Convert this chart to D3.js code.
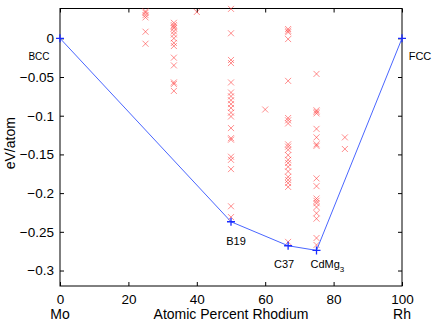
<!DOCTYPE html>
<html>
<head>
<meta charset="utf-8">
<script src="https://cdn.jsdelivr.net/npm/d3@7"></script>
<style>
  body { margin: 0; background: #fff; }
  svg { display: block; font-family: "Liberation Sans", Arial, sans-serif; }
</style>
</head>
<body>
<svg id="chart" width="436" height="324"></svg>
<script>
// structures sampled at each composition (eV/atom)
const compX = [25, 33.3, 40, 50, 60, 66.7, 75, 83.3];
const compE = [
  [0.035, 0.033, 0.030, 0.027, 0.0085, -0.007],
  [0.020, 0.017, 0.015, 0.013, 0.009, 0.005, 0, -0.006, -0.010, -0.025, -0.035, -0.057, -0.059, -0.068],
  [0.034],
  [0.038, 0.0065, -0.028, -0.032, -0.057, -0.070, -0.075, -0.080, -0.085, -0.090, -0.096, -0.101,
   -0.116, -0.129, -0.131, -0.153, -0.157, -0.169, -0.217, -0.231],
  [-0.092],
  [0.012, 0.0098, 0.0078, -0.001, -0.055, -0.103, -0.106, -0.110, -0.137, -0.140, -0.144, -0.151,
   -0.157, -0.161, -0.166, -0.172, -0.179, -0.183, -0.187, -0.192, -0.263],
  [-0.046, -0.093, -0.095, -0.097, -0.117, -0.128, -0.137, -0.139, -0.181, -0.191, -0.207, -0.210,
   -0.213, -0.218, -0.226, -0.233, -0.258, -0.267],
  [-0.128, -0.143]
];

// convex hull (ground states)
const hullX = [0, 50, 66.7, 75, 100];
const hullE = [0, -0.237, -0.268, -0.274, 0];
const hullNames = ["BCC", "B19", "C37", "CdMg", "FCC"];

const xTicks = [0, 20, 40, 60, 80, 100];
const yTicks = [-0.3, -0.25, -0.2, -0.15, -0.1, -0.05, 0];

const svg = d3.select("#chart");
const mLeft = 60, mRight = 402, mTop = 8.5, mBottom = 286;

const x = d3.scaleLinear().domain([0, 100]).range([mLeft, mRight]);
const y = d3.scaleLinear().domain([-0.32, 0.0385]).range([mBottom, mTop]);

const fmt = d => d === 0 ? "0" : d3.format("")(d).replace("-", "\u2212");

// axes with inward ticks on all sides
const tickLen = 4;
svg.append("g").attr("transform", `translate(0,${mBottom})`)
  .call(d3.axisBottom(x).tickValues(xTicks).tickSizeInner(-tickLen).tickSizeOuter(0).tickPadding(8).tickFormat(fmt));
svg.append("g").attr("transform", `translate(0,${mTop})`)
  .call(d3.axisTop(x).tickValues(xTicks).tickSizeInner(-tickLen).tickSizeOuter(0).tickFormat(""));
svg.append("g").attr("transform", `translate(${mLeft},0)`)
  .call(d3.axisLeft(y).tickValues(yTicks).tickSizeInner(-tickLen).tickSizeOuter(0).tickPadding(6).tickFormat(fmt));
svg.append("g").attr("transform", `translate(${mRight},0)`)
  .call(d3.axisRight(y).tickValues(yTicks).tickSizeInner(-tickLen).tickSizeOuter(0).tickFormat(""));

svg.selectAll(".domain").remove();
svg.selectAll(".tick line").attr("stroke", "#000");
svg.selectAll(".tick text").attr("font-size", 13.5).attr("fill", "#000")
  .attr("font-family", "Liberation Sans, Arial, sans-serif");

svg.append("rect")
  .attr("x", mLeft).attr("y", mTop)
  .attr("width", mRight - mLeft).attr("height", mBottom - mTop)
  .attr("fill", "none").attr("stroke", "#000").attr("stroke-width", 1);

// red crosses
const pts = [];
compX.forEach((cx, i) => compE[i].forEach(e => pts.push([cx, e])));
const cs = 3;
svg.append("g").selectAll("path").data(pts).join("path")
  .attr("d", d => {
    const px = x(d[0]), py = y(d[1]);
    return `M${px - cs},${py - cs}L${px + cs},${py + cs}M${px - cs},${py + cs}L${px + cs},${py - cs}`;
  })
  .attr("stroke", "#ff3030").attr("stroke-opacity", 0.55).attr("stroke-width", 1).attr("fill", "none");

// hull line
const hull = hullX.map((hx, i) => [hx, hullE[i]]);
svg.append("path").datum(hull)
  .attr("d", d3.line().x(d => x(d[0])).y(d => y(d[1])))
  .attr("fill", "none").attr("stroke", "#4a66ff").attr("stroke-width", 1);

const ps = 4;
svg.append("g").selectAll("path").data(hull).join("path")
  .attr("d", d => {
    const px = x(d[0]), py = y(d[1]);
    return `M${px - ps},${py}L${px + ps},${py}M${px},${py - ps}L${px},${py + ps}`;
  })
  .attr("stroke", "#1a2cff").attr("stroke-width", 1.3);

// structure labels: [dx, dy, anchor]
const labelOff = [[-21, 22, "middle"], [5, 23, "middle"], [-4, 22.5, "middle"], [-6, 17.5, "start"], [18, 22, "middle"]];
const lab = svg.append("g").attr("font-size", 11).attr("fill", "#000");
hull.forEach((d, i) => {
  const t = lab.append("text")
    .attr("x", x(d[0]) + labelOff[i][0])
    .attr("y", y(d[1]) + labelOff[i][1])
    .attr("text-anchor", labelOff[i][2]);
  if (hullNames[i] === "CdMg") {
    t.text("CdMg");
    t.append("tspan").attr("font-size", 8).attr("dy", 4).text("3");
  } else {
    t.text(hullNames[i]);
  }
});
lab.select("text:nth-child(1)").attr("font-size", 10);

// axis titles
svg.append("text").attr("x", x(50)).attr("y", 319)
  .attr("text-anchor", "middle").attr("font-size", 14).text("Atomic Percent Rhodium");
svg.append("text").attr("x", x(0)).attr("y", 319)
  .attr("text-anchor", "middle").attr("font-size", 14).text("Mo");
svg.append("text").attr("x", x(100)).attr("y", 319)
  .attr("text-anchor", "middle").attr("font-size", 14).text("Rh");
svg.append("text")
  .attr("transform", `translate(15,${(mTop + mBottom) / 2 - 4}) rotate(-90)`)
  .attr("text-anchor", "middle").attr("font-size", 14).text("eV/atom");
</script>
</body>
</html>
